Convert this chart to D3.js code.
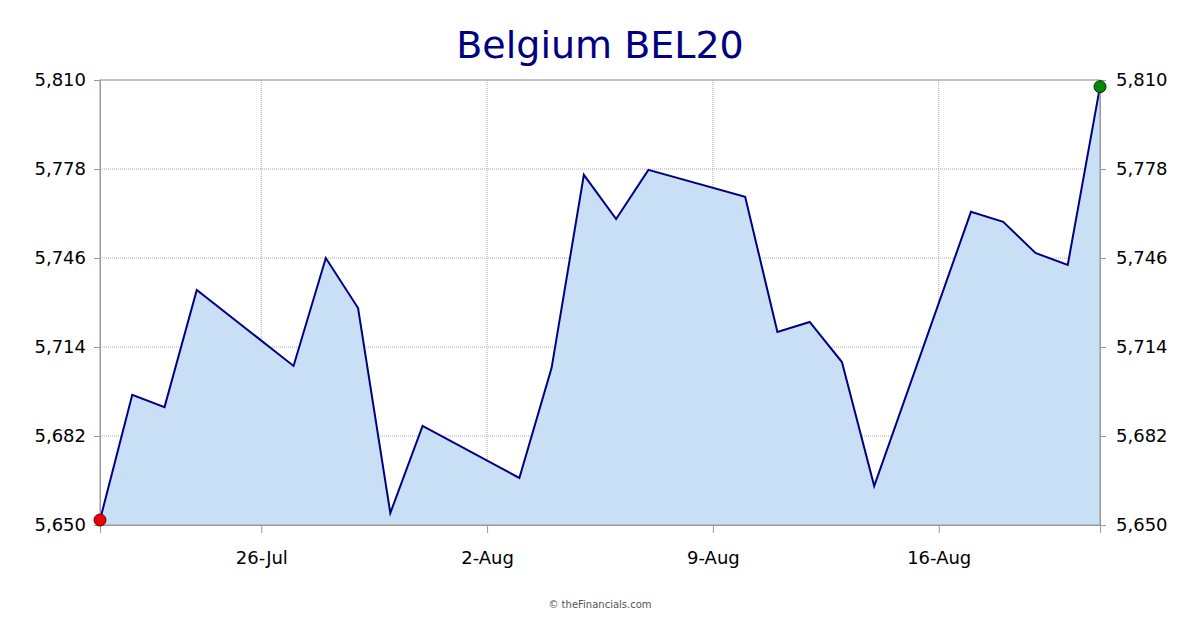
<!DOCTYPE html>
<html><head><meta charset="utf-8">
<script src="https://cdn.jsdelivr.net/npm/d3@7"></script>
<style>body{margin:0;background:#fff}svg{font-family:"DejaVu Sans",Verdana,sans-serif}</style>
</head><body><svg id="c" width="1200" height="630"></svg>
<script>
const dates = ["2021-07-21","2021-07-22","2021-07-23","2021-07-24","2021-07-27","2021-07-28","2021-07-29","2021-07-30","2021-07-31","2021-08-03","2021-08-04","2021-08-05","2021-08-06","2021-08-07","2021-08-10","2021-08-11","2021-08-12","2021-08-13","2021-08-14","2021-08-17","2021-08-18","2021-08-19","2021-08-20","2021-08-21"];
const values = [5651.8,5696.8,5692.4,5734.5,5707.2,5746,5728,5654.3,5685.6,5666.9,5706.5,5775.9,5760,5777.7,5768,5719.4,5723,5708.6,5664,5762.6,5759,5747.8,5743.5,5807.6];
const yTicks = [5650,5682,5714,5746,5778,5810];
const xTickDates = ["2021-07-26","2021-08-02","2021-08-09","2021-08-16"];
const xTickLabels = ["26-Jul","2-Aug","9-Aug","16-Aug"];

const svg = d3.select("#c");
const L=100,R=1100,T=80,B=525;
const parse = d3.utcParse("%Y-%m-%d");
const data = dates.map((d,i)=>({d:parse(d),v:values[i]}));
const x = d3.scaleUtc().domain(d3.extent(data,d=>d.d)).range([L,R]);
const y = d3.scaleLinear().domain([5650,5810]).range([B,T]);
const fmt = d3.format(",");

svg.append("text").attr("x",600).attr("y",58).attr("text-anchor","middle").attr("font-size",38).attr("fill","#000080").text("Belgium BEL20");

const g = svg.append("g");
yTicks.forEach(t=>g.append("line").attr("x1",L).attr("x2",R).attr("y1",y(t)).attr("y2",y(t)).attr("stroke","#aaa").attr("stroke-dasharray","1,1"));
xTickDates.forEach(t=>g.append("line").attr("x1",x(parse(t))).attr("x2",x(parse(t))).attr("y1",T).attr("y2",B).attr("stroke","#aaa").attr("stroke-dasharray","1,1"));

svg.append("path").datum(data).attr("fill","#c9dff6")
  .attr("d",d3.area().x(d=>x(d.d)).y0(B).y1(d=>y(d.v)));
svg.append("path").datum(data).attr("fill","none").attr("stroke","#000080").attr("stroke-width",2)
  .attr("d",d3.line().x(d=>x(d.d)).y(d=>y(d.v)));

svg.append("rect").attr("x",L).attr("y",T).attr("width",R-L).attr("height",B-T).attr("fill","none").attr("stroke","#999");

const ay = d3.axisLeft(y).tickValues(yTicks).tickFormat(fmt).tickSize(6).tickPadding(8);
const ay2 = d3.axisRight(y).tickValues(yTicks).tickFormat(fmt).tickSize(6).tickPadding(10);
const ax = d3.axisBottom(x).tickValues(xTickDates.map(parse)).tickFormat((d,i)=>xTickLabels[i]).tickSize(8).tickPadding(18);
[[svg.append("g").attr("transform",`translate(${L},0)`).call(ay)],[svg.append("g").attr("transform",`translate(${R},0)`).call(ay2)],[svg.append("g").attr("transform",`translate(0,${B})`).call(ax)]].forEach(([a])=>{
  a.select(".domain").attr("stroke","#999");
  a.selectAll(".tick line").attr("stroke","#999");
  a.selectAll(".tick text").attr("font-size",18).attr("fill","#000").attr("font-family","DejaVu Sans, Verdana, sans-serif");
});

const first=data[0], last=data[data.length-1];
svg.append("circle").attr("cx",x(first.d)).attr("cy",y(first.v)).attr("r",6).attr("fill","#e00").attr("stroke","#600");
svg.append("circle").attr("cx",x(last.d)).attr("cy",y(last.v)).attr("r",6).attr("fill","#080").attr("stroke","#030");

svg.append("text").attr("x",600).attr("y",608).attr("text-anchor","middle").attr("font-size",10).attr("fill","#555").text("© theFinancials.com");
</script></body></html>
